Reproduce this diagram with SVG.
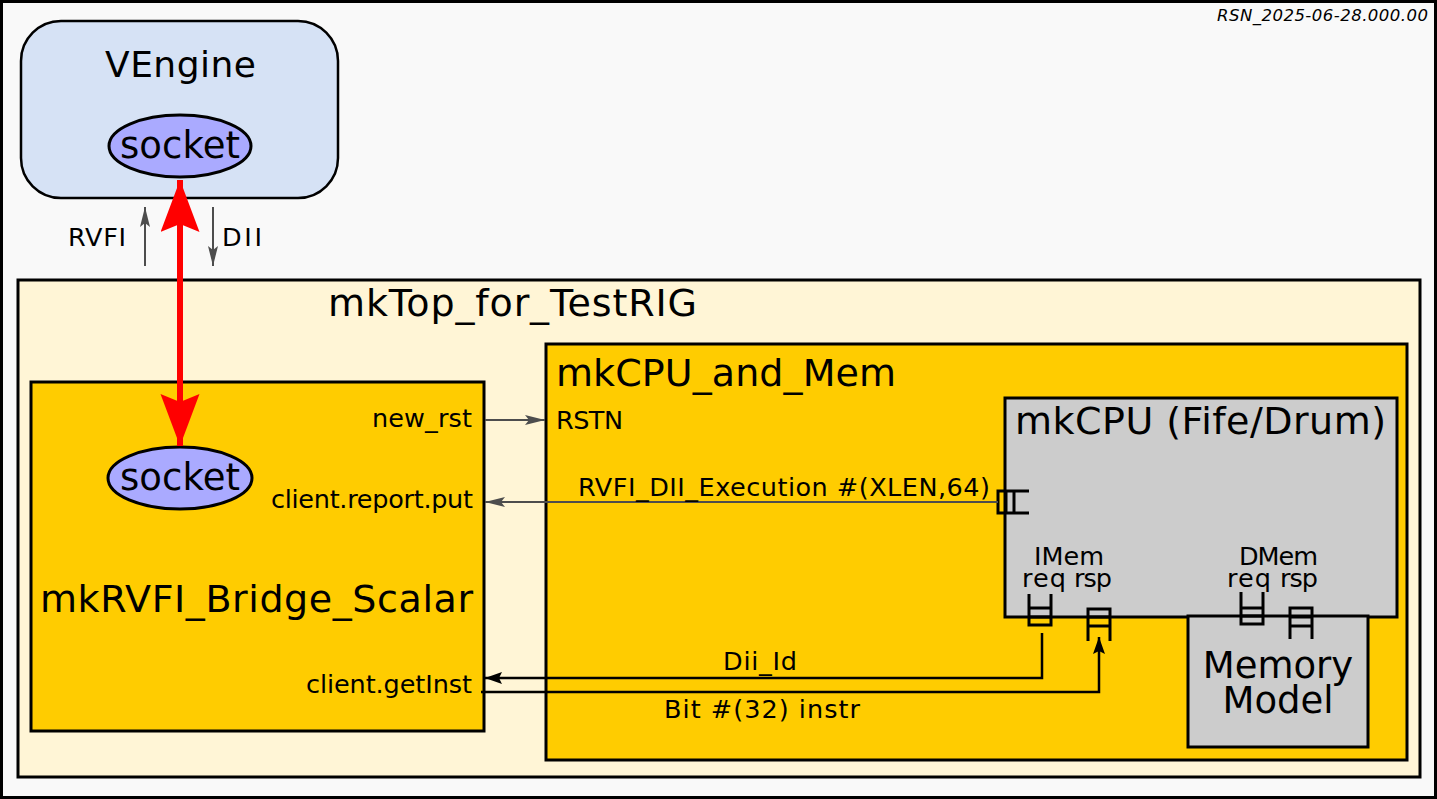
<svg xmlns="http://www.w3.org/2000/svg" width="1437" height="799" viewBox="0 0 1437 799">
<style>
  text { font-family: "DejaVu Sans", "Liberation Sans", sans-serif; fill: #000; }
  .big { font-size: 38px; }
  .sm { font-size: 25.5px; }
  .box { stroke: #000; stroke-width: 3; }
  .gold { fill: #ffcc00; }
  .grey { fill: #cccccc; }
  .sock { fill: #aaaaff; stroke: #000; stroke-width: 3; }
  .gline { stroke: #4d4d4d; stroke-width: 2; fill: none; }
  .bline { stroke: #000; stroke-width: 2.5; fill: none; }
  .fifo { stroke: #000; stroke-width: 3; fill: none; }
</style>
<defs>
  <marker id="ga" markerUnits="userSpaceOnUse" markerWidth="22" markerHeight="12" refX="20" refY="5" orient="auto">
    <path d="M0,0 L20,5 L0,10 L4,5 z" fill="#4d4d4d"/>
  </marker>
  <marker id="ba" markerUnits="userSpaceOnUse" markerWidth="20" markerHeight="14" refX="17" refY="6" orient="auto">
    <path d="M0,0 L17,6 L0,12 L3,6 z" fill="#000"/>
  </marker>
  <marker id="ra" markerUnits="userSpaceOnUse" markerWidth="54" markerHeight="40" refX="52" refY="19.5" orient="auto">
    <path d="M0,0 L52,19.5 L0,39 L8,19.5 z" fill="#ff0000"/>
  </marker>
</defs>

<rect x="1.5" y="1.5" width="1434" height="796" fill="#f9f9f9" stroke="#000" stroke-width="3"/>
<text x="1217" y="21" font-size="16.5" font-style="italic" textLength="211">RSN_2025-06-28.000.00</text>

<g id="vengine">
  <rect x="21" y="21" width="317" height="177" rx="40" ry="40" fill="#d6e2f5" stroke="#000" stroke-width="2.5"/>
  <text x="105" y="77" font-size="36" textLength="151">VEngine</text>
  <ellipse cx="180" cy="146" rx="71" ry="31" class="sock"/>
  <text x="120" y="158" font-size="37" textLength="120">socket</text>
</g>

<g id="mkTop">
  <rect x="18" y="280" width="1402" height="497" fill="#fff5d6" class="box"/>
  <text x="328" y="316" class="big" textLength="369">mkTop_for_TestRIG</text>
</g>

<g id="bridge">
  <rect x="31" y="382" width="453" height="349" class="box gold"/>
  <ellipse cx="180" cy="478" rx="72" ry="31" class="sock"/>
  <text x="120" y="490" font-size="37" textLength="120">socket</text>
  <text x="40" y="612" class="big" textLength="433">mkRVFI_Bridge_Scalar</text>
  <text x="372" y="427" class="sm" textLength="100">new_rst</text>
  <text x="271" y="508" class="sm" textLength="202">client.report.put</text>
  <text x="306" y="693" class="sm" textLength="166">client.getInst</text>
</g>

<g id="cpuMem">
  <rect x="546" y="344" width="861" height="416" class="box gold"/>
  <text x="556" y="386" class="big" textLength="340">mkCPU_and_Mem</text>
  <text x="556" y="429" class="sm" textLength="67">RSTN</text>
</g>

<g id="mkCPU">
  <rect x="1005" y="398" width="392" height="219" class="box grey"/>
  <text x="1015" y="434" class="big" textLength="371">mkCPU (Fife/Drum)</text>
  <text x="1034" y="565" class="sm" textLength="70">IMem</text>
  <text x="1022" y="587" class="sm" textLength="44">req</text>
  <text x="1074" y="587" class="sm" textLength="38">rsp</text>
  <text x="1239" y="565" class="sm" textLength="79">DMem</text>
  <text x="1227" y="587" class="sm" textLength="44">req</text>
  <text x="1280" y="587" class="sm" textLength="38">rsp</text>
</g>

<g id="memModel">
  <rect x="1188" y="616" width="180" height="131" class="box grey"/>
  <text x="1278" y="678" font-size="37" text-anchor="middle">Memory</text>
  <text x="1278" y="713" font-size="37" text-anchor="middle">Model</text>
</g>

<g id="fifos">
  <path class="fifo" d="M1029,491 H998 V513 H1029 M1006,491 V513 M1014,491 V513"/>
  <path class="fifo" d="M1029,594 V625 H1051 V594 M1029,608 H1051 M1029,617 H1051"/>
  <path class="fifo" d="M1088,641 V609 H1110 V641 M1088,617 H1110 M1088,626 H1110"/>
  <path class="fifo" d="M1241,592 V624 H1263 V592 M1241,608 H1263 M1241,616 H1263"/>
  <path class="fifo" d="M1290,639 V608 H1312 V639 M1290,617 H1312 M1290,626 H1312"/>
</g>

<g id="connectors">
  <line x1="145" y1="266" x2="145" y2="207" class="gline" marker-end="url(#ga)"/>
  <line x1="213" y1="207" x2="213" y2="266" class="gline" marker-end="url(#ga)"/>
  <text x="68" y="246" class="sm" textLength="58">RVFI</text>
  <text x="222" y="246" class="sm" textLength="40">DII</text>
  <line x1="485" y1="420" x2="545" y2="420" class="gline" marker-end="url(#ga)"/>
  <line x1="998" y1="502" x2="485" y2="502" class="gline" marker-end="url(#ga)"/>
  <text x="578" y="496" class="sm" textLength="412">RVFI_DII_Execution #(XLEN,64)</text>
  <polyline points="1042,633 1042,678 485,678" class="bline" marker-end="url(#ba)"/>
  <text x="723" y="670" class="sm" textLength="74">Dii_Id</text>
  <polyline points="481,692 1099,692 1099,637" class="bline" marker-end="url(#ba)"/>
  <text x="664" y="718" class="sm" textLength="196">Bit #(32) instr</text>
  <line x1="180" y1="300" x2="180" y2="180" stroke="#ff0000" stroke-width="6" marker-end="url(#ra)"/>
  <line x1="180" y1="300" x2="180" y2="446" stroke="#ff0000" stroke-width="6" marker-end="url(#ra)"/>
</g>
</svg>
